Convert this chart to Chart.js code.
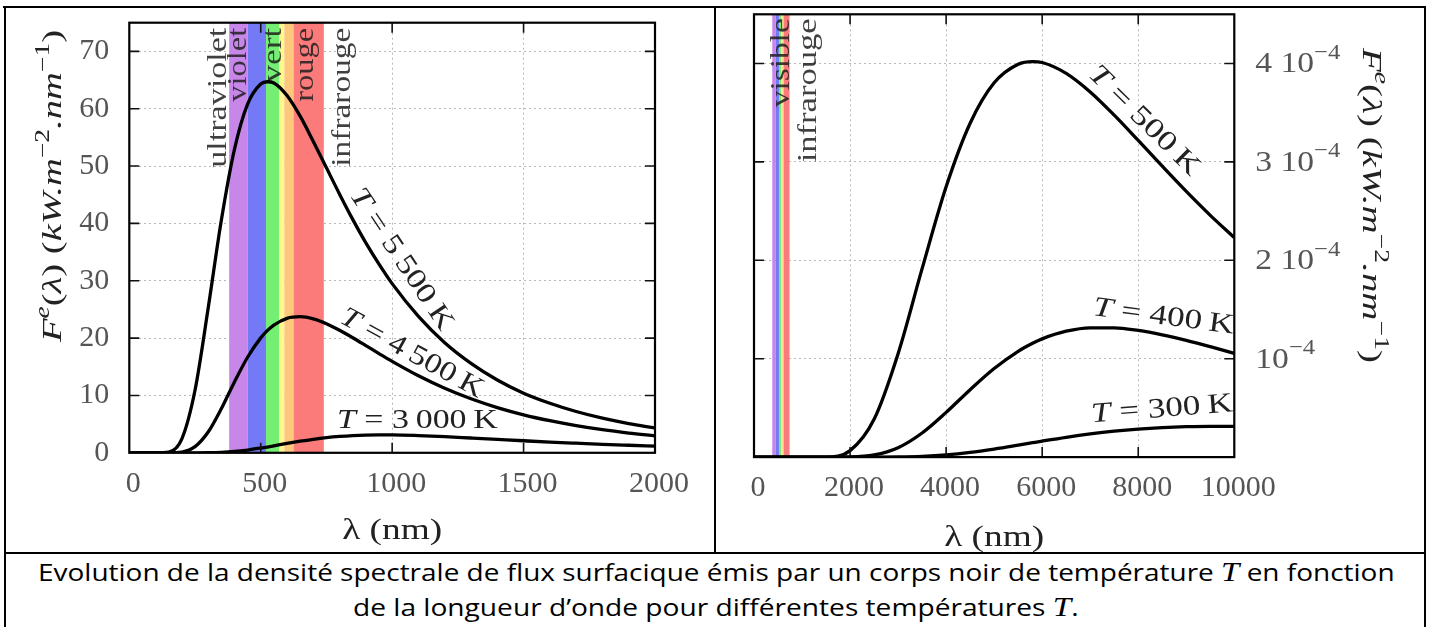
<!DOCTYPE html>
<html><head><meta charset="utf-8">
<script src="https://cdn.jsdelivr.net/npm/chart.js@4.4.1/dist/chart.umd.min.js"></script>
<style>
html,body{margin:0;padding:0;background:#fff;}
#page{position:relative;width:1430px;height:627px;overflow:hidden;background:#fff;}
.b{position:absolute;background:#000;}
.cv{position:absolute;}
.cap{position:absolute;top:0;left:0;white-space:nowrap;font-family:'Open Sans';font-size:23px;line-height:30px;color:#000;transform-origin:0 0;}
.cap i{font-family:'Liberation Serif';font-size:27px;font-style:italic;}
</style></head>
<body><div id="page">
<div class="b" style="left:3px;top:6px;width:1423px;height:2px"></div>
<div class="b" style="left:4px;top:6px;width:2px;height:621px"></div>
<div class="b" style="left:714px;top:6px;width:2px;height:548px"></div>
<div class="b" style="left:1424px;top:6px;width:2px;height:621px"></div>
<div class="b" style="left:4px;top:552px;width:1422px;height:2px"></div>
<canvas id="c1" class="cv" width="708" height="544" style="left:6px;top:8px"></canvas>
<canvas id="c2" class="cv" width="708" height="544" style="left:716px;top:8px"></canvas>
<div class="cap" id="cap1" data-cx="716" data-w="1356" style="top:557px">Evolution de la densité spectrale de flux surfacique émis par un corps noir de température <i>T</i> en fonction</div>
<div class="cap" id="cap2" data-cx="715.5" data-w="725" style="top:592px">de la longueur d’onde pour différentes températures <i>T</i>.</div>
</div>
<script>
// ---------------- DATA ----------------
// Left chart: wavelength (nm) and spectral flux (kW.m^-2.nm^-1)
const lambdaLeft = [0,100,150,200,250,300,350,400,450,500,525,550,600,650,700,750,800,850,900,950,1000,1100,1200,1300,1400,1500,1600,1700,1800,1900,2000];
const flux5500 = [0,0,0.13,2.44,10.9,25.2,40.5,52.9,60.8,64.3,64.7,64.5,62.3,58.7,54.3,49.7,45.1,40.7,36.6,32.9,29.5,23.8,19.2,15.6,12.7,10.4,8.64,7.20,6.04,5.10,4.33];
const flux4500 = [0,0,0.003,0.13,1.07,3.62,7.68,12.35,16.66,20.04,21.30,22.28,23.45,23.73,23.36,22.52,21.38,20.07,18.69,17.30,15.94,13.43,11.26,9.42,7.89,6.63,5.60,4.74,4.03,3.45,2.96];
const flux3000 = [0,0,0,0,0.002,0.018,0.08,0.23,0.48,0.82,1.01,1.21,1.63,2.02,2.36,2.64,2.85,3.00,3.09,3.12,3.12,3.01,2.82,2.58,2.34,2.10,1.87,1.67,1.48,1.32,1.17];
// Right chart: wavelength (nm) and spectral flux in units of 10^-4 kW.m^-2.nm^-1
const lambdaRight = [0,1000,1500,2000,2500,3000,3500,4000,4500,5000,5500,5800,6000,6500,7000,7500,8000,8500,9000,9500,10000];
const flux500 = [0,0,0,0.066,0.384,1.051,1.915,2.747,3.393,3.804,3.993,4.020,4.010,3.900,3.711,3.475,3.218,2.956,2.700,2.457,2.231];
const flux400 = [0,0,0,0.0018,0.0216,0.0955,0.2452,0.4544,0.6853,0.9000,1.0755,1.157,1.2018,1.2792,1.3136,1.3140,1.2875,1.2431,1.1864,1.1222,1.0543];
const flux300 = [0,0,0,0,0.0002,0.0018,0.0080,0.0227,0.0477,0.0818,0.1214,0.1462,0.1626,0.2016,0.2358,0.2639,0.2852,0.2999,0.3088,0.3125,0.3118];
// Visible spectrum bands (nm)
const bandStart = [380,450,520,570,590,625];
const bandEnd   = [450,520,570,590,625,740];
// Tick values and labels
const leftXTicks = [0,500,1000,1500,2000];
const leftXTickLabels = ['0','500','1000','1500','2000'];
const leftYTicks = [0,10,20,30,40,50,60,70];
const leftYTickLabels = ['0','10','20','30','40','50','60','70'];
const rightXTicks = [0,2000,4000,6000,8000,10000];
const rightXTickLabels = ['0','2000','4000','6000','8000','10000'];
const rightYTicks = [0,1,2,3,4];
const rightYTickMantissa = ['','','2','3','4'];
const rightYTickExponent = ['','−4','−4','−4','−4'];

// ---------------- STYLE ----------------
const bandColors = ['#c687e9','#7479f5','#74ef74','#fdf98c','#fdc77c','#fa7b79'];
const SERIF = '"Liberation Serif"';

function drawRich(ctx, parts, x, y, rot, size, target, align, base, color, supScale){
  ctx.save();
  ctx.translate(x, y);
  ctx.rotate(rot*Math.PI/180);
  const ss = supScale || 0.7;
  const fnt = p => (p.it?'italic ':'') + Math.round(p.sup? size*ss : size) + 'px ' + SERIF;
  let w = 0; const ms = [];
  for (const p of parts){ ctx.font = fnt(p); const m = ctx.measureText(p.t).width; ms.push(m); w += m; }
  const sx = target ? (target < 5 ? target : target / w) : 1;
  ctx.scale(sx, 1);
  let cx = align === 'center' ? -w/2 : (align === 'right' ? -w : 0);
  ctx.textBaseline = base || 'middle';
  ctx.textAlign = 'left';
  ctx.fillStyle = color || '#222';
  parts.forEach((p,i)=>{ ctx.font = fnt(p); ctx.fillText(p.t, cx, p.sup ? -size*0.38 : 0); cx += ms[i]; });
  ctx.restore();
}

const T = {t:'T', it:true};
const yTitleParts = [{t:'F',it:true},{t:'e',it:true,sup:true},{t:'(',},{t:'λ',it:true},{t:') ('},{t:'kW.m',it:true},{t:'−2',sup:true},{t:'.nm',it:true},{t:'−1',sup:true},{t:')'}];

function makePlugin(cfg){
  return {
    id:'deco'+cfg.id,
    beforeDatasetsDraw(chart){
      const {ctx, chartArea:a, scales:{x}} = chart;
      ctx.save();
      bandStart.forEach((s,i)=>{
        const x0 = x.getPixelForValue(s), x1 = x.getPixelForValue(bandEnd[i]);
        ctx.fillStyle = bandColors[i];
        ctx.fillRect(x0, a.top, x1-x0, a.bottom-a.top);
      });
      ctx.restore();
      cfg.bandLabels.forEach(l=>{
        drawRich(ctx, [{t:l.t}], x.getPixelForValue(l.x), a.top + cfg.labelTop, -90, 28, l.len, 'right', 'alphabetic', 'rgba(30,30,30,0.85)');
      });
      cfg.curveLabels.forEach(l=>{
        drawRich(ctx, [T,{t:l.t}], x.getPixelForValue(l.x), chart.scales.y.getPixelForValue(l.y), l.rot, 28, l.len, 'center', 'middle', '#222');
      });
    },
    afterDatasetsDraw(chart){
      const {ctx, chartArea:a, scales:{x,y}} = chart;
      ctx.save();
      ctx.strokeStyle = '#111'; ctx.lineWidth = 1.6;
      ctx.beginPath();
      x.ticks.forEach(t=>{ const px = x.getPixelForValue(t.value);
        if (px<=a.left+1||px>=a.right-1) return;
        ctx.moveTo(px,a.bottom); ctx.lineTo(px,a.bottom-10); ctx.moveTo(px,a.top); ctx.lineTo(px,a.top+10); });
      y.ticks.forEach(t=>{ const py = y.getPixelForValue(t.value);
        if (py>=a.bottom-1||py<=a.top+1) return;
        ctx.moveTo(a.left,py); ctx.lineTo(a.left+10,py); ctx.moveTo(a.right,py); ctx.lineTo(a.right-10,py); });
      ctx.stroke();
      ctx.lineWidth = 2.2; ctx.strokeStyle = '#000';
      ctx.strokeRect(a.left, a.top, a.right-a.left, a.bottom-a.top);
      ctx.restore();
    },
    afterDraw(chart){
      const {ctx, chartArea:a, scales:{y}} = chart;
      drawRich(ctx, yTitleParts, cfg.yTitle.x, cfg.yTitle.y, cfg.yTitle.rot, 28, cfg.yTitle.len, 'center', 'middle', '#222');
      drawRich(ctx, [{t:'λ (nm)'}], (a.left+a.right)/2, cfg.xTitleY, 0, 29, 100, 'center', 'middle', '#222');
      if (cfg.customYLabels) {
        rightYTicks.forEach((v,i)=>{
          if (!rightYTickExponent[i]) return;
          const parts = [];
          if (rightYTickMantissa[i]) parts.push({t:rightYTickMantissa[i]+' '});
          parts.push({t:'10'}); parts.push({t:rightYTickExponent[i], sup:true});
          drawRich(ctx, parts, a.right + 21, y.getPixelForValue(v) + 1, 0, 30, 1.12, 'left', 'middle', '#555', 0.72);
        });
      }
    }
  };
}

function line(lams, vals){ return lams.map((l,i)=>({x:l, y:vals[i]})); }
function ds(lams, vals){ return {data: line(lams, vals), borderColor:'#000', borderWidth:3.3, pointRadius:0, cubicInterpolationMode:'monotone', fill:false}; }
const tickFont = {family:'Liberation Serif', size:30};

function makeChart(id, o){
  return new Chart(document.getElementById(id), {
    type:'line',
    data:{datasets:o.datasets},
    options:{
      responsive:false, animation:false, events:[],
      layout:{padding:o.padding},
      plugins:{legend:{display:false}, tooltip:{enabled:false}},
      scales:{
        x:{type:'linear', min:o.xmin, max:o.xmax, position:'bottom',
           afterFit(s){ s.height = o.xh; s.paddingLeft = 0; s.paddingRight = 0; s.paddingTop = 0; s.paddingBottom = 0; },
           afterBuildTicks(s){ s.ticks = o.xTicks.map(v=>({value:v})); },
           grid:{color:'#b8b8b8', lineWidth:1, drawTicks:false},
           border:{display:false, dash:[2,3]},
           ticks:{font:tickFont, color:'#555', padding:o.xpad, maxRotation:0, autoSkip:false, labelOffset:4,
                  callback:(v)=>{ const i=o.xTicks.indexOf(v); return i<0?'':o.xLabels[i]; }}},
        y:{type:'linear', min:o.ymin, max:o.ymax, position:o.ypos,
           afterFit(s){ s.width = o.yw; s.paddingLeft = 0; s.paddingRight = 0; s.paddingTop = 0; s.paddingBottom = 0; },
           afterBuildTicks(s){ s.ticks = o.yTicks.map(v=>({value:v})); },
           grid:{color:'#b8b8b8', lineWidth:1, drawTicks:false},
           border:{display:false, dash:[2,3]},
           ticks:{display:o.yTickDisplay, font:tickFont, color:'#555', padding:20,
                  callback:(v)=>{ const i=o.yTicks.indexOf(v); return i<0?'':(o.yLabels?o.yLabels[i]:''); }}}
      }
    },
    plugins:[o.plugin]
  });
}

makeChart('c1', {
  datasets:[ds(lambdaLeft,flux5500), ds(lambdaLeft,flux4500), ds(lambdaLeft,flux3000)],
  padding:{left:0, top:14.7, right:59, bottom:0},
  xmin:0, xmax:2000, ymin:0, ymax:75, xh:99.2, yw:123.3, xpad:13, ypos:'left', yTickDisplay:true,
  xTicks:leftXTicks, xLabels:leftXTickLabels, yTicks:leftYTicks, yLabels:leftYTickLabels,
  plugin: makePlugin({id:1, labelTop:5,
    bandLabels:[{t:'ultraviolet',x:367,len:140},{t:'violet',x:443,len:74},{t:'vert',x:576,len:55},{t:'rouge',x:697,len:74},{t:'infrarouge',x:841,len:139}],
    curveLabels:[{t:' = 5\u2009500\u2009K',x:1035,y:33.7,rot:56.2,len:165},{t:' = 4\u2009500\u2009K',x:1075,y:17.3,rot:28.7,len:159},{t:' = 3\u2009000\u2009K',x:1096,y:5.55,rot:0,len:161}],
    yTitle:{x:48,y:178,rot:-90,len:312}, xTitleY:523})
});

makeChart('c2', {
  datasets:[ds(lambdaRight,flux500), ds(lambdaRight,flux400), ds(lambdaRight,flux300)],
  padding:{left:38, top:6.3, right:0, bottom:0},
  xmin:0, xmax:10000, ymin:0, ymax:4.5, xh:94.9, yw:189.7, xpad:13, ypos:'right', yTickDisplay:false,
  xTicks:rightXTicks, xLabels:rightXTickLabels, yTicks:rightYTicks, yLabels:null,
  plugin: makePlugin({id:2, labelTop:4, customYLabels:true,
    bandLabels:[{t:'visible',x:730,len:89},{t:'infrarouge',x:1300,len:144}],
    curveLabels:[{t:' = 500\u2009K',x:8120,y:3.418,rot:44.5,len:145},{t:' = 400\u2009K',x:8526,y:1.424,rot:7.5,len:142},{t:' = 300\u2009K',x:8495,y:0.484,rot:-4.4,len:142}],
    yTitle:{x:654,y:197.5,rot:90,len:315}, xTitleY:530})
});

document.querySelectorAll('.cap').forEach(el=>{
  const w = el.offsetWidth, target = +el.dataset.w, cx = +el.dataset.cx;
  el.style.left = (cx - target/2) + 'px';
  el.style.transform = 'scaleX(' + (target/w) + ')';
});
</script>
</body></html>
